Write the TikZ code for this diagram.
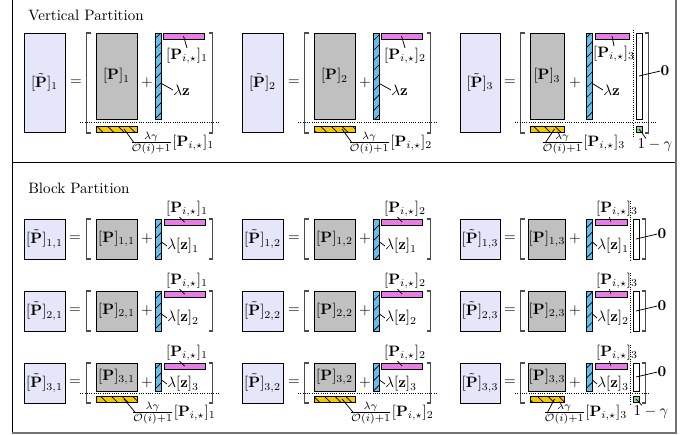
\documentclass[tikz,border=0pt]{standalone}
\usepackage{amsmath}
\usetikzlibrary{patterns.meta}

\definecolor{lav}{RGB}{230,230,250}
\definecolor{pgray}{RGB}{192,192,192}
\definecolor{zblue}{RGB}{102,190,235}
\definecolor{rowpink}{RGB}{232,125,232}
\definecolor{corr}{RGB}{242,200,0}
\definecolor{onegreen}{RGB}{140,215,140}

\begin{document}
\begin{tikzpicture}[
    x=0.664pt, y=-0.664pt,
    every node/.style={inner sep=0pt},
    wh/.style 2 args={minimum width=#1*0.664pt, minimum height=#2*0.664pt},
    ptil/.style={draw, line width=0.6pt, fill=lav},
    pmat/.style={draw, line width=0.6pt, fill=pgray},
    zbar/.style={draw, line width=0.6pt, fill=zblue,
                 postaction={pattern={Lines[angle=45, distance=4.7pt, line width=0.45pt]}}},
    rowbar/.style={draw, line width=0.6pt, fill=rowpink},
    corbar/.style={draw, line width=0.6pt, fill=corr,
                   postaction={pattern={Lines[angle=-45, distance=5pt, line width=0.45pt]}}},
    zerobar/.style={draw, line width=0.6pt, fill=white},
    onebox/.style={draw, line width=0.6pt, fill=onegreen},
    brack/.style={line width=0.7pt, black!70},
    lead/.style={line width=0.5pt},
    sep/.style={densely dotted, line width=0.5pt}
]
\useasboundingbox (0,0) rectangle (698,434);

% Frame
\draw[line width=0.6pt] (12,-3) -- (12,433);
\draw[line width=0.6pt] (12,162) -- (676,162);
\draw[line width=1.2pt, black!55] (676,-3) -- (676,433) -- (12,433);

% Titles
\node[anchor=west] (vtitle) at (28,15) {Vertical Partition};
\node[anchor=west] (btitle) at (28,188) {Block Partition};

% Vertical partition, part 1
\node[ptil, wh={41}{99}] (vt1) at (44.5,82.5) {$[\tilde{\mathbf{P}}]_1$};
\node (veq1) at (76,83) {$=$};
\draw[brack] (90.5,33) -- (86.5,33) -- (86.5,133) -- (90.5,133);
\node[pmat, wh={41}{86}] (vp1) at (116.5,76) {$[\mathbf{P}]_1$};
\node (vplus1) at (147,83) {$+$};
\node[zbar, wh={6}{86}] (vz1) at (158,76) {};
\node[rowbar, wh={41}{6}] (vr1) at (183.5,36) {};
\draw[brack] (208.5,33) -- (212.5,33) -- (212.5,133) -- (208.5,133);
\draw[sep] (80,122.5) -- (220,122.5);
\node[corbar, wh={41}{6}] (vc1) at (116.5,129) {};
\node (vrl1) at (187,56) {$[\mathbf{P}_{i,\star}]_1$};
\node[anchor=west] (vzl1) at (173,90) {$\lambda\mathbf{z}$};
\node (vcl1) at (172,143) {$\frac{\lambda\gamma}{\mathcal{O}(i)+1}[\mathbf{P}_{i,\star}]_1$};
\draw[lead] (vr1.center) -- (vrl1.north);
\draw[lead] ([yshift=-5pt]vz1.east) -- (vzl1.west);
\draw[lead] ([xshift=5pt]vc1.center) -- ([xshift=3pt]vcl1.west);

% Vertical partition, part 2
\node[ptil, wh={41}{99}] (vt2) at (262.5,82.5) {$[\tilde{\mathbf{P}}]_2$};
\node (veq2) at (294,83) {$=$};
\draw[brack] (308.5,33) -- (304.5,33) -- (304.5,133) -- (308.5,133);
\node[pmat, wh={41}{86}] (vp2) at (334.5,76) {$[\mathbf{P}]_2$};
\node (vplus2) at (365,83) {$+$};
\node[zbar, wh={6}{86}] (vz2) at (376,76) {};
\node[rowbar, wh={41}{6}] (vr2) at (401.5,36) {};
\draw[brack] (426.5,33) -- (430.5,33) -- (430.5,133) -- (426.5,133);
\draw[sep] (298,122.5) -- (438,122.5);
\node[corbar, wh={41}{6}] (vc2) at (334.5,129) {};
\node (vrl2) at (405,56) {$[\mathbf{P}_{i,\star}]_2$};
\node[anchor=west] (vzl2) at (391,90) {$\lambda\mathbf{z}$};
\node (vcl2) at (390,143) {$\frac{\lambda\gamma}{\mathcal{O}(i)+1}[\mathbf{P}_{i,\star}]_2$};
\draw[lead] (vr2.center) -- (vrl2.north);
\draw[lead] ([yshift=-5pt]vz2.east) -- (vzl2.west);
\draw[lead] ([xshift=5pt]vc2.center) -- ([xshift=3pt]vcl2.west);

% Vertical partition, part 3 (with the zero column)
\node[ptil, wh={40}{99}] (vt3) at (480,82.5) {$[\tilde{\mathbf{P}}]_3$};
\node (veq3) at (510,83) {$=$};
\draw[brack] (524.5,33) -- (520.5,33) -- (520.5,133) -- (524.5,133);
\node[pmat, wh={34}{86}] (vp3) at (547,76) {$[\mathbf{P}]_3$};
\node (vplus3) at (575,83) {$+$};
\node[zbar, wh={6}{86}] (vz3) at (589,76) {};
\node[rowbar, wh={34}{6}] (vr3) at (612,36) {};
\draw[sep] (633,30) -- (633,137);
\node[zerobar, wh={6}{86}] (vo3) at (639,76) {};
\draw[brack] (644.5,33) -- (648.5,33) -- (648.5,133) -- (644.5,133);
\draw[sep] (515,122.5) -- (657,122.5);
\node[corbar, wh={34}{6}] (vc3) at (547,129) {};
\node[onebox, wh={6}{6}] (vg3) at (639,129) {};
\node (vrl3) at (614,54) {$[\mathbf{P}_{i,\star}]_3$};
\node[anchor=west] (vzl3) at (603,90) {$\lambda\mathbf{z}$};
\node (vcl3) at (583,143) {$\frac{\lambda\gamma}{\mathcal{O}(i)+1}[\mathbf{P}_{i,\star}]_3$};
\node (vol3) at (665,71) {$\mathbf{0}$};
\node (vgl3) at (655,145) {$1-\gamma$};
\draw[lead] (vr3.center) -- (vrl3.north);
\draw[lead] ([yshift=-5pt]vz3.east) -- (vzl3.west);
\draw[lead] ([xshift=5pt]vc3.center) -- ([xshift=3pt]vcl3.west);
\draw[lead] (vo3.center) -- (vol3.west);
\draw[lead] (vg3.center) -- ([xshift=-6pt]vgl3.north);

% Block partition, column 1
\foreach \rw/\ty/\gh in {1/219/40, 2/291/40, 3/363/28} {
  \node[ptil, wh={41}{40}] (bt\rw1) at (44.5,\ty+20) {$[\tilde{\mathbf{P}}]_{\rw,1}$};
  \node (beq\rw1) at (75,\ty+20) {$=$};
  \draw[brack] (90.5,\ty) -- (86.5,\ty) -- (86.5,\ty+40) -- (90.5,\ty+40);
  \node[pmat, wh={41}{\gh}] (bp\rw1) at (116.5,{\ty+\gh/2}) {$[\mathbf{P}]_{\rw,1}$};
  \node (bplus\rw1) at (147,\ty+20) {$+$};
  \node[zbar, wh={6}{\gh}] (bz\rw1) at (158,{\ty+\gh/2}) {};
  \node[rowbar, wh={41}{6}] (br\rw1) at (184.5,\ty+3) {};
  \draw[brack] (208.5,\ty) -- (212.5,\ty) -- (212.5,\ty+40) -- (208.5,\ty+40);
  \node (brl\rw1) at (187,\ty-10) {$[\mathbf{P}_{i,\star}]_1$};
  \node[anchor=west] (bzl\rw1) at (167,{\ty+\gh/2+7}) {$\lambda[\mathbf{z}]_{\rw}$};
  \draw[lead] ([xshift=-5pt]brl\rw1.south) -- (br\rw1.center);
  \draw[lead] ([yshift=-2pt]bz\rw1.east) -- (bzl\rw1.west);
}

% Block partition, column 2
\foreach \rw/\ty/\gh in {1/219/40, 2/291/40, 3/363/28} {
  \node[ptil, wh={41}{40}] (bt\rw2) at (262.5,\ty+20) {$[\tilde{\mathbf{P}}]_{\rw,2}$};
  \node (beq\rw2) at (294,\ty+20) {$=$};
  \draw[brack] (308.5,\ty) -- (304.5,\ty) -- (304.5,\ty+40) -- (308.5,\ty+40);
  \node[pmat, wh={41}{\gh}] (bp\rw2) at (334.5,{\ty+\gh/2}) {$[\mathbf{P}]_{\rw,2}$};
  \node (bplus\rw2) at (365,\ty+20) {$+$};
  \node[zbar, wh={6}{\gh}] (bz\rw2) at (376,{\ty+\gh/2}) {};
  \node[rowbar, wh={41}{6}] (br\rw2) at (402,\ty+3) {};
  \draw[brack] (426.5,\ty) -- (430.5,\ty) -- (430.5,\ty+40) -- (426.5,\ty+40);
  \node (brl\rw2) at (405,\ty-10) {$[\mathbf{P}_{i,\star}]_2$};
  \node[anchor=west] (bzl\rw2) at (385,{\ty+\gh/2+7}) {$\lambda[\mathbf{z}]_{\rw}$};
  \draw[lead] ([xshift=-5pt]brl\rw2.south) -- (br\rw2.center);
  \draw[lead] ([yshift=-2pt]bz\rw2.east) -- (bzl\rw2.west);
}

% Block partition, column 3 (with the zero column)
\foreach \rw/\ty/\gh in {1/219/40, 2/291/40, 3/363/28} {
  \node[ptil, wh={40}{40}] (bt\rw3) at (480,\ty+20) {$[\tilde{\mathbf{P}}]_{\rw,3}$};
  \node (beq\rw3) at (510,\ty+20) {$=$};
  \draw[brack] (524.5,\ty) -- (520.5,\ty) -- (520.5,\ty+40) -- (524.5,\ty+40);
  \node[pmat, wh={34}{\gh}] (bp\rw3) at (547,{\ty+\gh/2}) {$[\mathbf{P}]_{\rw,3}$};
  \node (bplus\rw3) at (575,\ty+20) {$+$};
  \node[zbar, wh={6}{\gh}] (bz\rw3) at (589,{\ty+\gh/2}) {};
  \node[rowbar, wh={32}{6}] (br\rw3) at (611,\ty+3) {};
  \draw[sep] (630,\ty-18) -- (630,\ty+42);
  \node[zerobar, wh={6}{\gh}] (bo\rw3) at (636,{\ty+\gh/2}) {};
  \draw[brack] (641.5,\ty) -- (645.5,\ty) -- (645.5,\ty+40) -- (641.5,\ty+40);
  \node (brl\rw3) at (617,\ty-10) {$[\mathbf{P}_{i,\star}]_3$};
  \node[anchor=west] (bzl\rw3) at (597,{\ty+\gh/2+7}) {$\lambda[\mathbf{z}]_{\rw}$};
  \node (bol\rw3) at (662,{\ty+\gh/2-5}) {$\mathbf{0}$};
  \draw[lead] ([xshift=-5pt]brl\rw3.south) -- (br\rw3.center);
  \draw[lead] ([yshift=-2pt]bz\rw3.east) -- (bzl\rw3.west);
  \draw[lead] (bo\rw3.center) -- (bol\rw3.west);
}

% Block partition, last row corrections
\draw[sep] (80,393) -- (220,393);
\node[corbar, wh={41}{6}] (bc31) at (116.5,399) {};
\node (bcl31) at (173.5,413) {$\frac{\lambda\gamma}{\mathcal{O}(i)+1}[\mathbf{P}_{i,\star}]_1$};
\draw[lead] ([xshift=5pt]bc31.center) -- ([xshift=3pt]bcl31.west);

\draw[sep] (298,393) -- (438,393);
\node[corbar, wh={41}{6}] (bc32) at (334.5,399) {};
\node (bcl32) at (391.5,413) {$\frac{\lambda\gamma}{\mathcal{O}(i)+1}[\mathbf{P}_{i,\star}]_2$};
\draw[lead] ([xshift=5pt]bc32.center) -- ([xshift=3pt]bcl32.west);

\draw[sep] (515,393) -- (650,393);
\node[corbar, wh={34}{6}] (bc33) at (547,399) {};
\node[onebox, wh={6}{6}] (bg33) at (636,399) {};
\node (bcl33) at (585,413) {$\frac{\lambda\gamma}{\mathcal{O}(i)+1}[\mathbf{P}_{i,\star}]_3$};
\node (bgl33) at (651,412) {$1-\gamma$};
\draw[lead] ([xshift=5pt]bc33.center) -- ([xshift=3pt]bcl33.west);
\draw[lead] (bg33.center) -- ([xshift=-6pt]bgl33.north);

\end{tikzpicture}
\end{document}
